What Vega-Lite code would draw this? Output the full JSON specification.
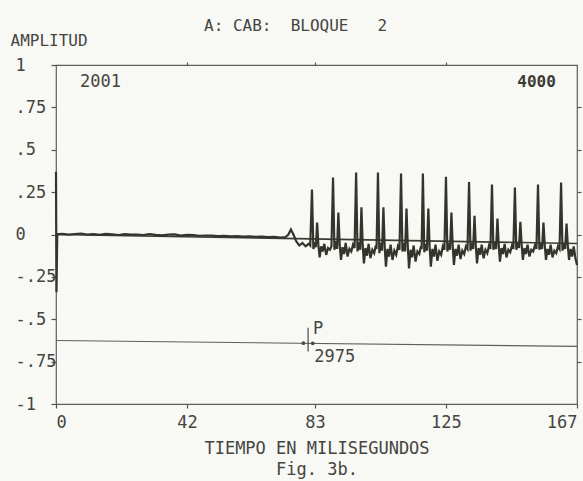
{
  "$schema": "https://vega.github.io/schema/vega-lite/v6.json",
  "width": 521,
  "height": 339,
  "autosize": {"type": "none"},
  "padding": {"left": 56, "top": 65, "right": 6, "bottom": 77},
  "background": "#f8f8f5",
  "title": {
    "text": "A: CAB:\u00a0 BLOQUE\u00a0\u00a0 2",
    "anchor": "start",
    "frame": "group",
    "dx": 148,
    "offset": -2,
    "font": "DejaVu Sans Mono",
    "fontSize": 16,
    "fontWeight": "normal",
    "color": "#45453f"
  },
  "config": {
    "view": {"stroke": "#5f5f58", "strokeWidth": 1.2},
    "axis": {
      "labelFont": "DejaVu Sans Mono",
      "titleFont": "DejaVu Sans Mono",
      "labelFontSize": 17,
      "titleFontSize": 17,
      "labelColor": "#45453f",
      "titleColor": "#45453f",
      "titleFontWeight": "normal",
      "tickColor": "#55554e",
      "tickWidth": 1.2,
      "ticks": true,
      "grid": false,
      "domain": false
    }
  },
  "datasets": {
    "sig": [
      {"t": 0, "a": 0.37}, {"t": 0.15, "a": -0.34}, {"t": 0.4, "a": 0.002},
      {"t": 2, "a": 0.004}, {"t": 4, "a": -0.001}, {"t": 6, "a": 0.003}, {"t": 8, "a": 0.006},
      {"t": 10, "a": 0.0}, {"t": 12, "a": 0.002}, {"t": 14, "a": -0.002}, {"t": 16, "a": 0.004},
      {"t": 18, "a": 0.001}, {"t": 20, "a": -0.003}, {"t": 22, "a": 0.002}, {"t": 24, "a": -0.001},
      {"t": 26, "a": 0.0}, {"t": 28, "a": -0.004}, {"t": 30, "a": 0.002}, {"t": 32, "a": -0.002},
      {"t": 34, "a": -0.005}, {"t": 36, "a": -0.001}, {"t": 38, "a": 0.001}, {"t": 40, "a": -0.006},
      {"t": 42, "a": -0.002}, {"t": 44, "a": -0.004}, {"t": 46, "a": -0.008}, {"t": 48, "a": -0.006},
      {"t": 50, "a": -0.007}, {"t": 52, "a": -0.01}, {"t": 54, "a": -0.008}, {"t": 56, "a": -0.011},
      {"t": 58, "a": -0.01}, {"t": 60, "a": -0.013}, {"t": 62, "a": -0.011}, {"t": 64, "a": -0.014},
      {"t": 66, "a": -0.012}, {"t": 68, "a": -0.015}, {"t": 70, "a": -0.014}, {"t": 72, "a": -0.018},
      {"t": 73.5, "a": -0.016}, {"t": 74.5, "a": 0.0}, {"t": 75.3, "a": 0.03}, {"t": 76.1, "a": 0.0},
      {"t": 77.0, "a": -0.04}, {"t": 78.0, "a": -0.065}, {"t": 79.0, "a": -0.05}, {"t": 80.0, "a": -0.07},
      {"t": 81.0, "a": -0.055},
      {"t": 81.5, "a": -0.065}, {"t": 82.05, "a": 0.265}, {"t": 82.5, "a": -0.085}, {"t": 82.95, "a": -0.045},
      {"t": 83.3, "a": -0.075}, {"t": 83.7, "a": 0.07}, {"t": 84.1, "a": -0.06}, {"t": 84.5, "a": -0.135},
      {"t": 85.0, "a": -0.07}, {"t": 85.5, "a": -0.1}, {"t": 86.0, "a": -0.055}, {"t": 86.6, "a": -0.12},
      {"t": 87.2, "a": -0.08}, {"t": 87.8, "a": -0.09}, {"t": 88.3, "a": -0.07},
      {"t": 88.8, "a": 0.336}, {"t": 89.25, "a": -0.09}, {"t": 89.7, "a": -0.04}, {"t": 90.1, "a": -0.085},
      {"t": 90.5, "a": 0.13}, {"t": 90.95, "a": -0.065}, {"t": 91.35, "a": -0.15}, {"t": 91.85, "a": -0.075},
      {"t": 92.35, "a": -0.115}, {"t": 92.85, "a": -0.05}, {"t": 93.45, "a": -0.13}, {"t": 94.05, "a": -0.085},
      {"t": 94.65, "a": -0.1}, {"t": 95.2, "a": -0.06}, {"t": 95.7, "a": -0.08},
      {"t": 96.2, "a": 0.366}, {"t": 96.65, "a": -0.1}, {"t": 97.1, "a": -0.045}, {"t": 97.5, "a": -0.09},
      {"t": 97.9, "a": 0.16}, {"t": 98.3, "a": -0.06}, {"t": 98.7, "a": -0.17}, {"t": 99.2, "a": -0.08},
      {"t": 99.7, "a": -0.125}, {"t": 100.2, "a": -0.055}, {"t": 100.8, "a": -0.14}, {"t": 101.4, "a": -0.09},
      {"t": 102.0, "a": -0.11}, {"t": 102.5, "a": -0.065}, {"t": 102.75, "a": -0.085},
      {"t": 103.2, "a": 0.366}, {"t": 103.65, "a": -0.11}, {"t": 104.1, "a": -0.05}, {"t": 104.5, "a": -0.095},
      {"t": 104.95, "a": 0.16}, {"t": 105.35, "a": -0.07}, {"t": 105.75, "a": -0.19}, {"t": 106.25, "a": -0.085},
      {"t": 106.75, "a": -0.13}, {"t": 107.25, "a": -0.06}, {"t": 107.85, "a": -0.15}, {"t": 108.45, "a": -0.095},
      {"t": 109.05, "a": -0.12}, {"t": 109.6, "a": -0.07}, {"t": 110.1, "a": -0.09},
      {"t": 110.6, "a": 0.36}, {"t": 111.05, "a": -0.1}, {"t": 111.5, "a": -0.05}, {"t": 111.9, "a": -0.1},
      {"t": 112.35, "a": 0.153}, {"t": 112.75, "a": -0.065}, {"t": 113.15, "a": -0.2}, {"t": 113.65, "a": -0.09},
      {"t": 114.15, "a": -0.135}, {"t": 114.65, "a": -0.065}, {"t": 115.25, "a": -0.16}, {"t": 115.85, "a": -0.1},
      {"t": 116.45, "a": -0.115}, {"t": 117.0, "a": -0.07}, {"t": 117.2, "a": -0.085},
      {"t": 117.6, "a": 0.36}, {"t": 118.05, "a": -0.105}, {"t": 118.5, "a": -0.055}, {"t": 118.9, "a": -0.095},
      {"t": 119.35, "a": 0.153}, {"t": 119.75, "a": -0.07}, {"t": 120.15, "a": -0.19}, {"t": 120.65, "a": -0.085},
      {"t": 121.15, "a": -0.13}, {"t": 121.65, "a": -0.06}, {"t": 122.25, "a": -0.155}, {"t": 122.85, "a": -0.1},
      {"t": 123.45, "a": -0.12}, {"t": 124.0, "a": -0.07}, {"t": 124.5, "a": -0.09},
      {"t": 125.0, "a": 0.34}, {"t": 125.45, "a": -0.1}, {"t": 125.9, "a": -0.05}, {"t": 126.3, "a": -0.09},
      {"t": 126.75, "a": 0.13}, {"t": 127.15, "a": -0.065}, {"t": 127.55, "a": -0.18}, {"t": 128.05, "a": -0.085},
      {"t": 128.55, "a": -0.125}, {"t": 129.05, "a": -0.06}, {"t": 129.65, "a": -0.145}, {"t": 130.25, "a": -0.095},
      {"t": 130.85, "a": -0.115}, {"t": 131.4, "a": -0.07}, {"t": 131.9, "a": -0.085},
      {"t": 132.4, "a": 0.31}, {"t": 132.85, "a": -0.095}, {"t": 133.3, "a": -0.05}, {"t": 133.7, "a": -0.085},
      {"t": 134.15, "a": 0.11}, {"t": 134.55, "a": -0.065}, {"t": 134.95, "a": -0.17}, {"t": 135.45, "a": -0.08},
      {"t": 135.95, "a": -0.12}, {"t": 136.45, "a": -0.06}, {"t": 137.05, "a": -0.14}, {"t": 137.65, "a": -0.09},
      {"t": 138.25, "a": -0.11}, {"t": 138.8, "a": -0.065}, {"t": 139.25, "a": -0.085},
      {"t": 139.75, "a": 0.295}, {"t": 140.2, "a": -0.09}, {"t": 140.65, "a": -0.05}, {"t": 141.05, "a": -0.085},
      {"t": 141.5, "a": 0.094}, {"t": 141.9, "a": -0.06}, {"t": 142.3, "a": -0.16}, {"t": 142.8, "a": -0.08},
      {"t": 143.3, "a": -0.115}, {"t": 143.8, "a": -0.055}, {"t": 144.4, "a": -0.135}, {"t": 145.0, "a": -0.09},
      {"t": 145.6, "a": -0.105}, {"t": 146.15, "a": -0.065}, {"t": 146.6, "a": -0.085},
      {"t": 147.1, "a": 0.277}, {"t": 147.55, "a": -0.09}, {"t": 148.0, "a": -0.05}, {"t": 148.4, "a": -0.08},
      {"t": 148.85, "a": 0.075}, {"t": 149.25, "a": -0.06}, {"t": 149.65, "a": -0.15}, {"t": 150.15, "a": -0.08},
      {"t": 150.65, "a": -0.115}, {"t": 151.15, "a": -0.06}, {"t": 151.75, "a": -0.13}, {"t": 152.35, "a": -0.09},
      {"t": 152.95, "a": -0.1}, {"t": 153.5, "a": -0.065}, {"t": 154.0, "a": -0.085},
      {"t": 154.5, "a": 0.295}, {"t": 154.95, "a": -0.09}, {"t": 155.4, "a": -0.05}, {"t": 155.8, "a": -0.085},
      {"t": 156.25, "a": 0.07}, {"t": 156.65, "a": -0.06}, {"t": 157.05, "a": -0.15}, {"t": 157.55, "a": -0.085},
      {"t": 158.05, "a": -0.12}, {"t": 158.55, "a": -0.06}, {"t": 159.15, "a": -0.135}, {"t": 159.75, "a": -0.095},
      {"t": 160.35, "a": -0.11}, {"t": 160.9, "a": -0.07}, {"t": 161.4, "a": -0.085},
      {"t": 161.9, "a": 0.306}, {"t": 162.35, "a": -0.095}, {"t": 162.8, "a": -0.05}, {"t": 163.2, "a": -0.085},
      {"t": 163.65, "a": 0.065}, {"t": 164.05, "a": -0.065}, {"t": 164.45, "a": -0.15}, {"t": 164.95, "a": -0.085},
      {"t": 165.45, "a": -0.13}, {"t": 165.95, "a": -0.07}, {"t": 166.5, "a": -0.14}, {"t": 167.0, "a": -0.18}
    ],
    "zero": [{"t": 0, "a": 0.0}, {"t": 167, "a": -0.053}],
    "pline": [{"t": 0, "a": -0.625}, {"t": 167, "a": -0.66}],
    "ptick": [{"t": 80.8, "a": -0.55, "a2": -0.69}],
    "pmark": [{"t": 79.3, "a": -0.641}, {"t": 82.3, "a": -0.642}],
    "notes": [
      {"t": 7.7, "a": 0.9, "label": "2001", "side": "left"},
      {"t": 160.2, "a": 0.9, "label": "4000", "side": "right"},
      {"t": 82.4, "a": -0.56, "label": "P", "side": "left"},
      {"t": 82.8, "a": -0.72, "label": "2975", "side": "left"}
    ]
  },
  "resolve": {"axis": {"x": "independent", "y": "independent"}},
  "layer": [
    {
      "data": {"name": "zero"},
      "mark": {"type": "line", "stroke": "#3c3b34", "strokeWidth": 1.6},
      "encoding": {
        "x": {"field": "t", "type": "quantitative", "scale": {"domain": [0, 167], "nice": false, "zero": false},
          "axis": {"orient": "top", "values": [42, 83, 125], "labels": false, "tickSize": 3, "title": null}},
        "y": {"field": "a", "type": "quantitative", "scale": {"domain": [-1, 1], "nice": false, "zero": false},
          "axis": {"orient": "right", "values": [-0.75, -0.5, -0.25, 0, 0.25, 0.5, 0.75], "labels": false, "tickSize": 4, "title": null}}
      }
    },
    {
      "data": {"name": "pline"},
      "mark": {"type": "line", "stroke": "#5f5f58", "strokeWidth": 1.1},
      "encoding": {
        "x": {"field": "t", "type": "quantitative", "axis": null},
        "y": {"field": "a", "type": "quantitative", "axis": null}
      }
    },
    {
      "data": {"name": "ptick"},
      "mark": {"type": "rule", "stroke": "#4a4a43", "strokeWidth": 1.2},
      "encoding": {
        "x": {"field": "t", "type": "quantitative", "axis": null},
        "y": {"field": "a", "type": "quantitative", "axis": null},
        "y2": {"field": "a2"}
      }
    },
    {
      "data": {"name": "pmark"},
      "mark": {"type": "point", "filled": true, "size": 14, "color": "#4a4a43", "opacity": 1},
      "encoding": {
        "x": {"field": "t", "type": "quantitative", "axis": null},
        "y": {"field": "a", "type": "quantitative", "axis": null}
      }
    },
    {
      "data": {"name": "sig"},
      "mark": {"type": "line", "stroke": "#34332c", "strokeWidth": 2.2},
      "encoding": {
        "x": {"field": "t", "type": "quantitative",
          "axis": {"orient": "bottom", "values": [0, 42, 83, 125, 167], "tickSize": 4, "labelPadding": 6, "labelFlush": true,
            "title": ["TIEMPO EN MILISEGUNDOS", "Fig. 3b."], "titlePadding": 10, "titleLineHeight": 21}},
        "y": {"field": "a", "type": "quantitative",
          "axis": {"orient": "left", "values": [-1, -0.75, -0.5, -0.25, 0, 0.25, 0.5, 0.75, 1], "tickSize": 5,
            "labelAlign": "left", "labelPadding": 36,
            "labelExpr": "(datum.value < 0 ? '-' : '') + replace(format(abs(datum.value), '.2~f'), '0.', '.')",
            "title": "AMPLITUD", "titleFontSize": 16, "titleAngle": 0, "titleAlign": "left", "titleBaseline": "middle", "titleX": -46, "titleY": -25}}
      }
    },
    {
      "data": {"name": "notes"},
      "transform": [{"filter": "datum.side == 'left'"}],
      "mark": {"type": "text", "align": "left", "baseline": "middle", "font": "DejaVu Sans Mono", "fontSize": 17, "color": "#45453f"},
      "encoding": {
        "x": {"field": "t", "type": "quantitative", "axis": null},
        "y": {"field": "a", "type": "quantitative", "axis": null},
        "text": {"field": "label"}
      }
    },
    {
      "data": {"name": "notes"},
      "transform": [{"filter": "datum.side == 'right'"}],
      "mark": {"type": "text", "align": "right", "baseline": "middle", "font": "DejaVu Sans Mono", "fontSize": 16, "fontWeight": "bold", "color": "#3c3b34"},
      "encoding": {
        "x": {"field": "t", "type": "quantitative", "axis": null},
        "y": {"field": "a", "type": "quantitative", "axis": null},
        "text": {"field": "label"}
      }
    }
  ]
}
